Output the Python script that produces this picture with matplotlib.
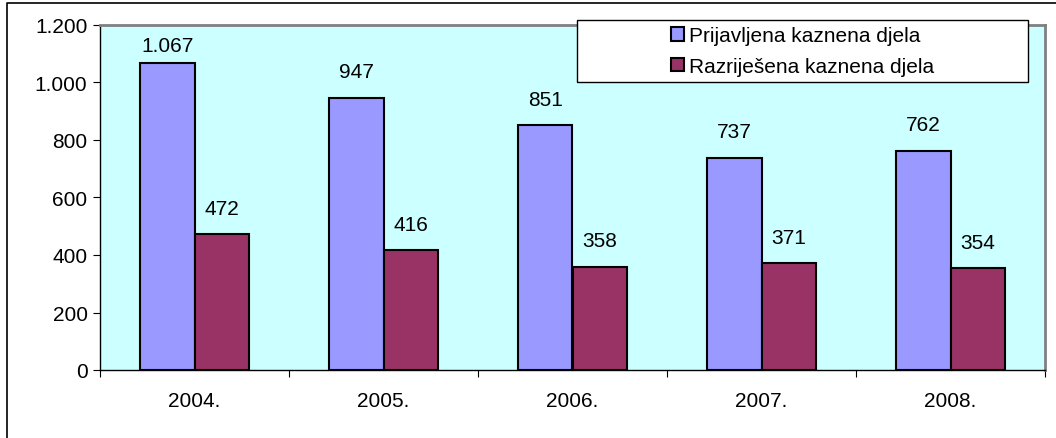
import matplotlib.pyplot as plt
from matplotlib.patches import Rectangle
from matplotlib.lines import Line2D
from matplotlib.ticker import FuncFormatter
import numpy as np

plt.rcParams['font.family'] = ['Liberation Sans', 'DejaVu Sans']

# Data
years = ["2004.", "2005.", "2006.", "2007.", "2008."]
prijavljena = [1067, 947, 851, 737, 762]
razrijesena = [472, 416, 358, 371, 354]
series_names = ["Prijavljena kaznena djela", "Razriješena kaznena djela"]

FS = 15
W, H = 1056, 439
fig = plt.figure(figsize=(W / 100, H / 100), dpi=100)

# outer chart frame (only left and top edges visible)
fig.lines.append(Line2D([7 / W, 7 / W, 1], [0, (H - 4) / H, (H - 4) / H], transform=fig.transFigure,
                        color="black", linewidth=1.2))

ax = fig.add_axes([100 / W, (H - 371) / H, 945 / W, 345 / H])
ax.set_facecolor("#CCFFFF")

x = np.arange(len(years))
bw = 0.286
b1 = ax.bar(x - bw / 2, prijavljena, bw, color="#9999FF", edgecolor="black", linewidth=1.5)
b2 = ax.bar(x + bw / 2, razrijesena, bw, color="#993366", edgecolor="black", linewidth=1.5)

fmt = lambda v: f"{int(v):,}".replace(",", ".")
for bars, vals in ((b1, prijavljena), (b2, razrijesena)):
    for b, v in zip(bars, vals):
        off = 6 if v > 1000 else 12  # labels near the top are squeezed down
        ax.annotate(fmt(v), (b.get_x() + b.get_width() / 2, v), xytext=(0, off),
                    textcoords="offset points", ha="center", va="bottom", fontsize=FS)

ax.set_xlim(-0.5, len(years) - 0.5)
ax.set_ylim(0, 1200)
ax.set_yticks(np.arange(0, 1201, 200))
ax.yaxis.set_major_formatter(FuncFormatter(lambda v, p: fmt(v)))

# category labels between boundary ticks
ax.set_xticks(np.arange(-0.5, len(years), 1.0))
ax.set_xticklabels([])
ax.set_xticks(x, minor=True)
ax.set_xticklabels(years, minor=True)
ax.tick_params(axis="x", which="minor", length=0, pad=15, labelsize=FS)
ax.tick_params(axis="x", which="major", length=5, direction="out")
ax.tick_params(axis="y", length=5, direction="out", labelsize=FS, pad=4)

for s in ("top", "right"):
    ax.spines[s].set_color("#808080")
    ax.spines[s].set_linewidth(2)
for s in ("left", "bottom"):
    ax.spines[s].set_color("black")
    ax.spines[s].set_linewidth(1)

# legend box
fig.patches.append(Rectangle((577 / W, (H - 83) / H), 451 / W, 62 / H, transform=fig.transFigure,
                             facecolor="white", edgecolor="black", linewidth=1, zorder=5))
leg = fig.legend([b1, b2], series_names, loc="center", bbox_to_anchor=((577 + 451 / 2) / W, (H - 52) / H),
                 frameon=False, fontsize=FS, handlelength=0.6, handleheight=0.6, handletextpad=0.25,
                 labelspacing=0.55, borderpad=0)
leg.set_zorder(6)

fig.savefig("out.png", dpi=100)
